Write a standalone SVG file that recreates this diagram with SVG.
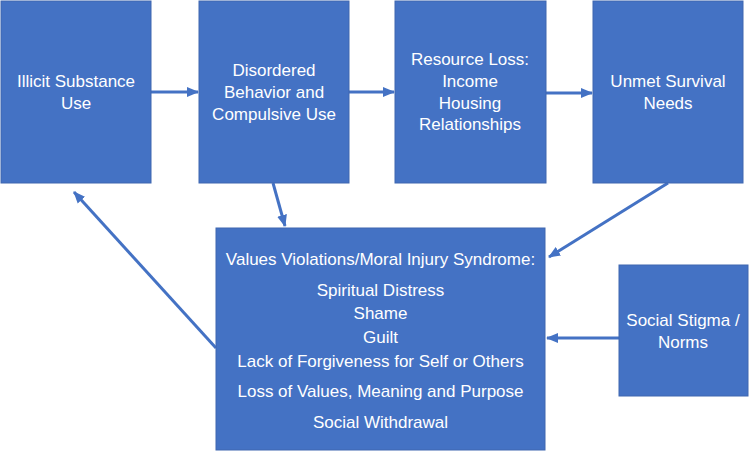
<svg xmlns="http://www.w3.org/2000/svg" width="749" height="452" viewBox="0 0 749 452">
<style>
.box{fill:#4472C4;stroke:#3F67B0;stroke-width:1}
.t{font-family:"Liberation Sans",Arial,sans-serif;font-size:17px;fill:#FFFFFF;text-anchor:middle}
.c{stroke:#4472C4;stroke-width:3;fill:none;marker-end:url(#ah)}
</style>
<defs>
<marker id="ah" markerUnits="userSpaceOnUse" markerWidth="12" markerHeight="12" viewBox="0 0 12 12" refX="11" refY="6" orient="auto">
<path d="M0,1 L12,6 L0,11 Z" fill="#4472C4"/>
</marker>
</defs>
<rect width="749" height="452" fill="#FFFFFF"/>
<g id="connectors">
<line class="c" x1="151" y1="92" x2="198" y2="92"/>
<line class="c" x1="349" y1="92" x2="394" y2="92"/>
<line class="c" x1="546" y1="93" x2="592" y2="93"/>
<line class="c" x1="273" y1="183" x2="285" y2="226"/>
<line class="c" x1="668" y1="183" x2="549" y2="257"/>
<line class="c" x1="216" y1="348" x2="74" y2="192"/>
<line class="c" x1="619" y1="338" x2="547" y2="338"/>
</g>
<g id="n1">
<rect class="box" x="1" y="1" width="150" height="182"/>
<text class="t" x="76" y="87">Illicit Substance</text>
<text class="t" x="76" y="109">Use</text>
</g>
<g id="n2">
<rect class="box" x="199" y="1" width="150" height="182"/>
<text class="t" x="274" y="76">Disordered</text>
<text class="t" x="274" y="98">Behavior and</text>
<text class="t" x="274" y="120">Compulsive Use</text>
</g>
<g id="n3">
<rect class="box" x="395" y="1" width="151" height="182"/>
<text class="t" x="470" y="65">Resource Loss:</text>
<text class="t" x="470" y="87">Income</text>
<text class="t" x="470" y="109">Housing</text>
<text class="t" x="470" y="130">Relationships</text>
</g>
<g id="n4">
<rect class="box" x="593" y="1" width="150" height="182"/>
<text class="t" x="668" y="87">Unmet Survival</text>
<text class="t" x="668" y="109">Needs</text>
</g>
<g id="n5">
<rect class="box" x="216" y="228" width="329" height="222"/>
<text class="t" x="380.5" y="265">Values Violations/Moral Injury Syndrome:</text>
<text class="t" x="380.5" y="296">Spiritual Distress</text>
<text class="t" x="380.5" y="319">Shame</text>
<text class="t" x="380.5" y="343">Guilt</text>
<text class="t" x="380.5" y="367">Lack of Forgiveness for Self or Others</text>
<text class="t" x="380.5" y="397">Loss of Values, Meaning and Purpose</text>
<text class="t" x="380.5" y="428">Social Withdrawal</text>
</g>
<g id="n6">
<rect class="box" x="619" y="265" width="129" height="131"/>
<text class="t" x="683" y="326">Social Stigma /</text>
<text class="t" x="683" y="348">Norms</text>
</g>
</svg>
